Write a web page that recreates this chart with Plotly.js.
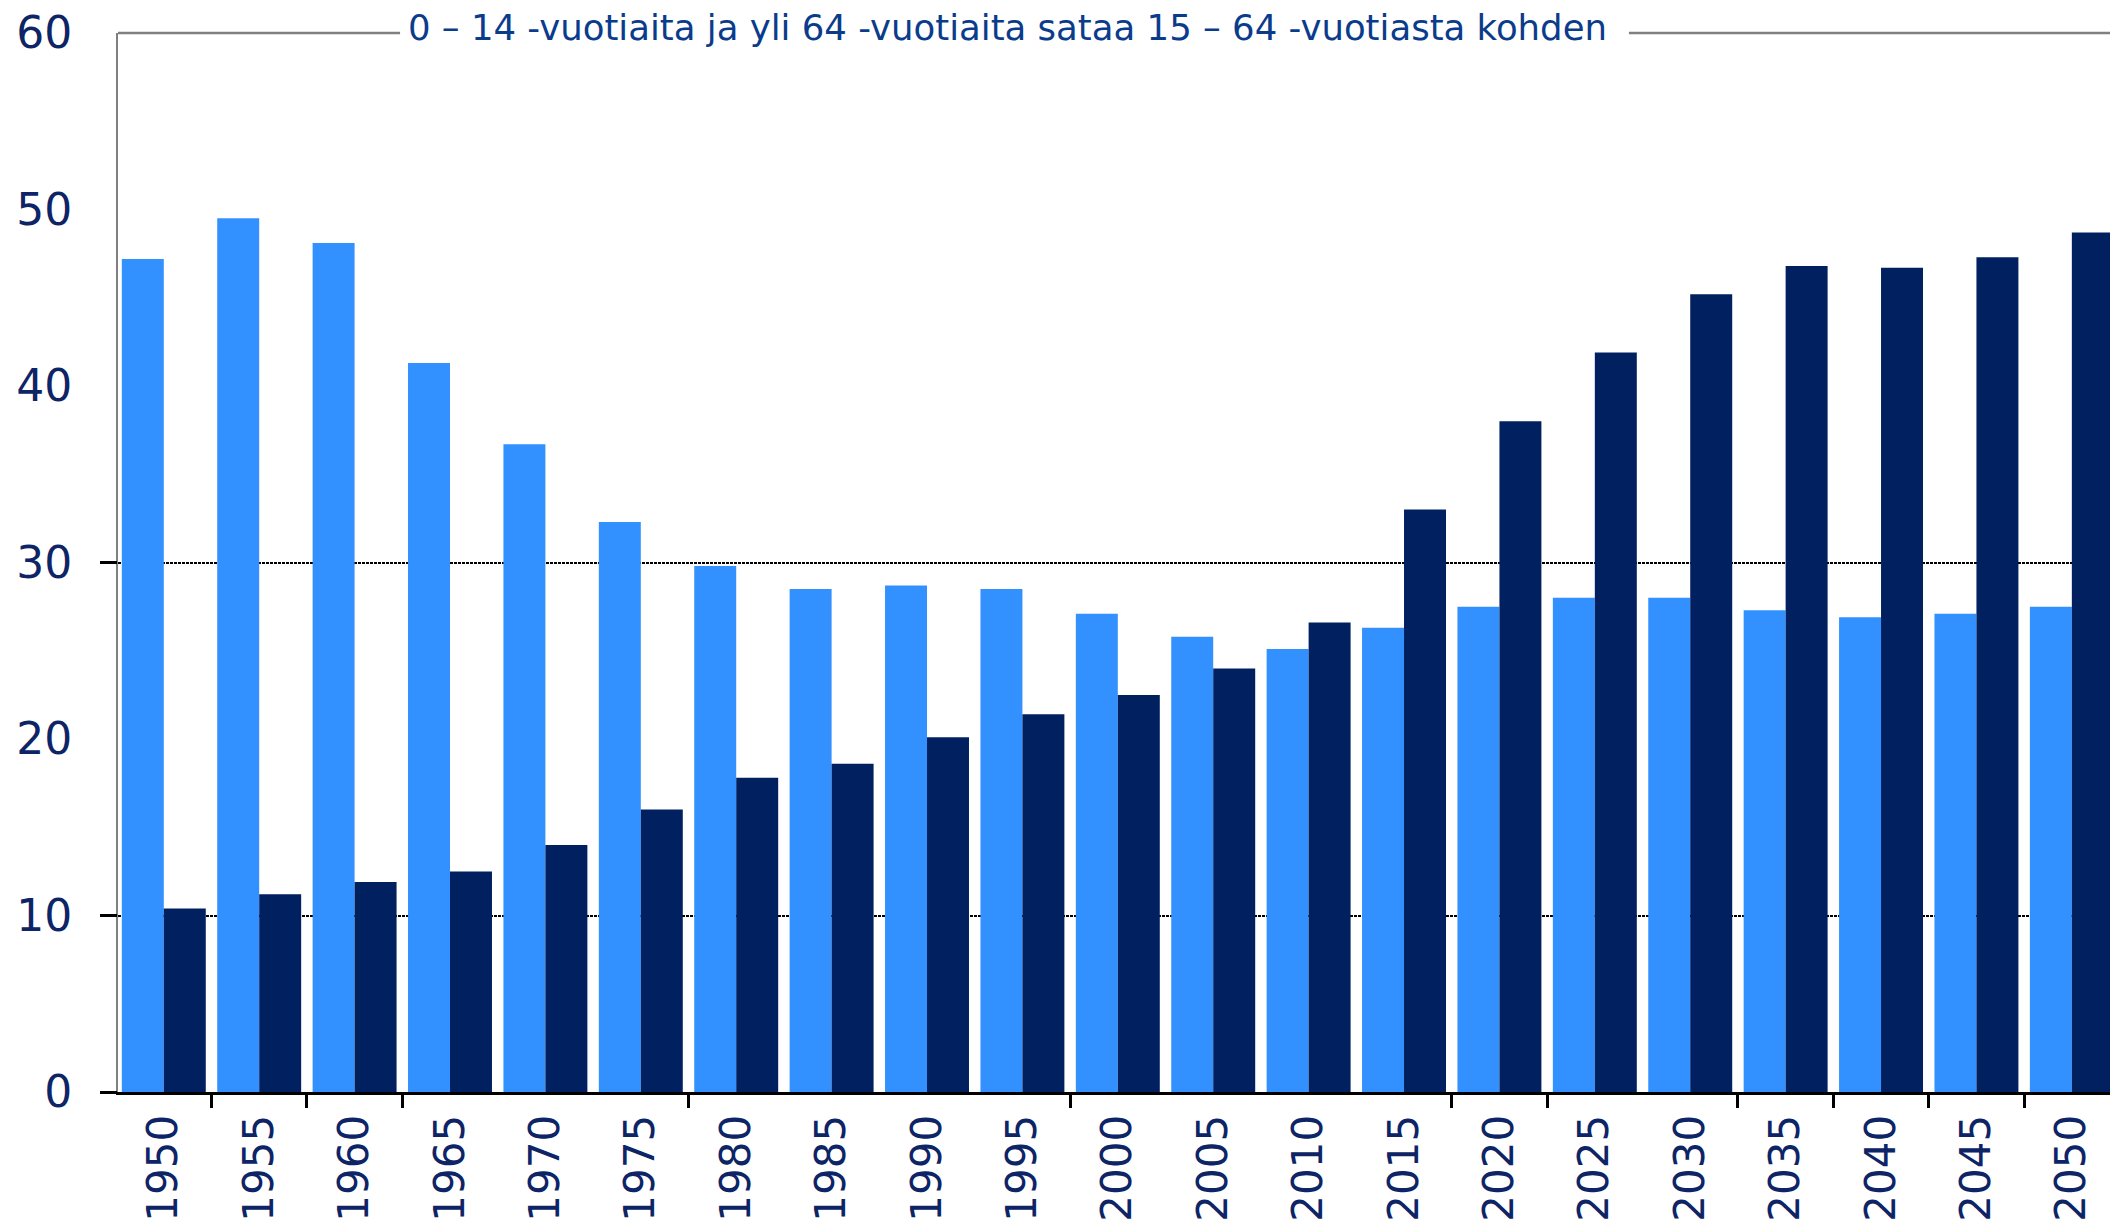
<!DOCTYPE html>
<html>
<head>
<meta charset="utf-8">
<script src="https://cdn.plot.ly/plotly-3.0.1.min.js"></script>
<style>
  html, body { margin: 0; padding: 0; background: #ffffff; }
  #chart { width: 2110px; height: 1227px; }
</style>
</head>
<body>
<div id="chart"></div>
<script>
// ---- data ----
const years = [1950, 1955, 1960, 1965, 1970, 1975, 1980, 1985, 1990, 1995, 2000,
               2005, 2010, 2015, 2020, 2025, 2030, 2035, 2040, 2045, 2050];
const yearLabels = years.map(String);
// 0-14 -vuotiaita sataa 15-64 -vuotiasta kohden (light bars)
const youngRatio = [47.2, 49.5, 48.1, 41.3, 36.7, 32.3, 29.8, 28.5, 28.7, 28.5, 27.1,
                    25.8, 25.1, 26.3, 27.5, 28.0, 28.0, 27.3, 26.9, 27.1, 27.5];
// yli 64 -vuotiaita sataa 15-64 -vuotiasta kohden (dark bars)
const oldRatio = [10.4, 11.2, 11.9, 12.5, 14.0, 16.0, 17.8, 18.6, 20.1, 21.4, 22.5,
                  24.0, 26.6, 33.0, 38.0, 41.9, 45.2, 46.8, 46.7, 47.3, 48.7];
const yTickVals = [0, 10, 20, 30, 40, 50, 60];
const yTickText = ['0', '10', '20', '30', '40', '50', '60'];
const yMarkedVals = [0, 10, 30];          // ticks + dotted gridlines visible in the original
const xTickBoundaries = [1952.5, 1957.5, 1962.5, 1977.5, 1997.5, 2017.5,
                         2022.5, 2032.5, 2037.5, 2042.5, 2047.5];
const titleText = '0 – 14 -vuotiaita ja yli 64 -vuotiaita sataa 15 – 64 -vuotiasta kohden';

const FONT = 'DejaVu Sans, Verdana, sans-serif';
const LABEL_COLOR = '#0D2466';
const xRange = [1947.6, 2052.0];

const traces = [
  { type: 'bar', name: '0 – 14 -vuotiaat', x: years, y: youngRatio,
    marker: { color: '#3391FF', line: { width: 0 } }, hoverinfo: 'x+y' },
  { type: 'bar', name: 'yli 64 -vuotiaat', x: years, y: oldRatio,
    marker: { color: '#012060', line: { width: 0 } }, hoverinfo: 'x+y' },
  { type: 'scatter', x: [], y: [], xaxis: 'x2', yaxis: 'y2', showlegend: false, hoverinfo: 'skip' }
];

const layout = {
  width: 2110, height: 1227,
  margin: { l: 118, r: 0, t: 33, b: 135, pad: 0 },
  paper_bgcolor: '#ffffff', plot_bgcolor: 'rgba(0,0,0,0)',
  showlegend: false,
  barmode: 'group', bargap: 0.12, bargroupgap: 0,
  font: { family: FONT, color: LABEL_COLOR },
  xaxis: {
    type: 'linear', range: xRange,
    tickmode: 'array', tickvals: years, ticktext: yearLabels,
    tickangle: -90, ticks: '', showgrid: false, zeroline: false,
    showline: true, linecolor: '#000000', linewidth: 3,
    tickfont: { family: FONT, size: 42, color: LABEL_COLOR },
    ticklabelstandoff: 3
  },
  xaxis2: {
    type: 'linear', range: xRange, overlaying: 'x', anchor: 'y', side: 'bottom',
    tickmode: 'array', tickvals: xTickBoundaries, ticks: 'outside',
    ticklen: 15, tickwidth: 3, tickcolor: '#000000',
    showticklabels: false, showgrid: false, zeroline: false, showline: false
  },
  yaxis: {
    range: [0, 60], tickmode: 'array', tickvals: yTickVals, ticktext: yTickText,
    ticks: '', showgrid: false, zeroline: false,
    showline: true, linecolor: '#808080', linewidth: 2,
    tickfont: { family: FONT, size: 44, color: LABEL_COLOR },
    ticklabelstandoff: 35
  },
  yaxis2: {
    range: [0, 60], overlaying: 'y', anchor: 'x', side: 'left',
    tickmode: 'array', tickvals: yMarkedVals, ticks: 'outside',
    ticklen: 17, tickwidth: 3, tickcolor: '#000000',
    showticklabels: false, showgrid: true, gridcolor: '#000000', gridwidth: 2,
    griddash: '3px,1px', zeroline: false, showline: false
  },
  shapes: [
    { type: 'line', xref: 'paper', yref: 'paper', x0: 0, x1: 0.1416, y0: 1, y1: 1,
      line: { color: '#808080', width: 2.5 } },
    { type: 'line', xref: 'paper', yref: 'paper', x0: 0.7585, x1: 1, y0: 1, y1: 1,
      line: { color: '#808080', width: 2.5 } }
  ],
  annotations: [
    { text: titleText, xref: 'paper', yref: 'paper', x: 0.4465, y: 1,
      xanchor: 'center', yanchor: 'middle', yshift: 6, showarrow: false,
      font: { family: FONT, size: 35.5, color: '#0B3C8C' } }
  ]
};

Plotly.newPlot('chart', traces, layout, { displayModeBar: false, staticPlot: true });
</script>
</body>
</html>
